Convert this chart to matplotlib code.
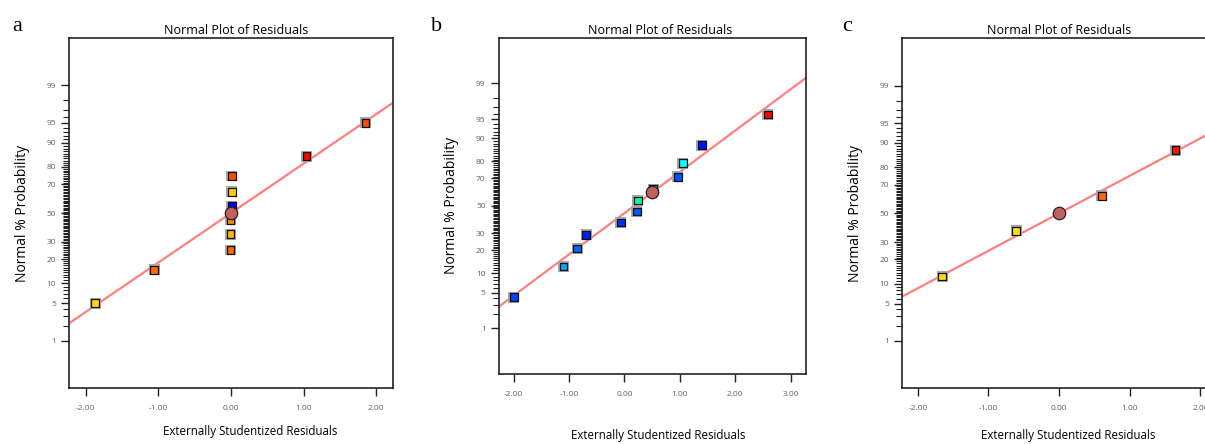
#!/usr/bin/env python3
"""
Normal probability plots of externally studentized residuals (panels a, b, c).
"""

from statistics import NormalDist

import matplotlib
matplotlib.use("Agg")
from matplotlib import pyplot as plt
import numpy as np

plt.rcParams["font.family"] = ["Open Sans", "DejaVu Sans"]

# panel a
a_resid = [-1.87, -1.06, -0.01, -0.01, -0.01, 0.01, 0.01, 0.01, 1.04, 1.85]
a_prob = [5, 15, 25, 35, 45, 55, 65, 75, 85, 95]
a_colors = ["#FFD400", "#FF6A00", "#FF6400", "#FFB800", "#FF8A00",
            "#0000FF", "#FFD000", "#FF4A00", "#FF0000", "#FF4800"]
a_center = (0.0, 50)
a_line_x = [-2.3, 2.3]
a_line_p = [1.9, 98.1]

# panel b
b_resid = [-2.0, -1.10, -0.855, -0.69, -0.065, 0.225, 0.24, 0.52, 0.965, 1.055, 1.40, 2.59]
b_prob = [4.17, 12.5, 20.83, 29.17, 37.5, 45.83, 54.17, 62.5, 70.83, 79.17, 87.5, 95.83]
b_colors = ["#0040FF", "#00A8FF", "#0068FF", "#0020FF", "#0030FF", "#0058FF",
            "#00FFB0", "#00FFFF", "#0050FF", "#00FFFF", "#0010FF", "#FF0000"]
b_center = (0.495, 60)
b_line_x = [-2.35, 3.35]
b_line_p = [2.4, 99.35]

# panel c
c_resid = [-1.655, -0.61, 0.605, 1.645]
c_prob = [12.5, 37.5, 62.5, 87.5]
c_colors = ["#FFE000", "#FFE000", "#FF6A00", "#FF1800"]
c_center = (0.0, 50)
c_line_x = [-2.3, 2.3]
c_line_p = [5.8, 94.2]

MAJOR = [1, 5, 10, 20, 30, 50, 70, 80, 90, 95, 99]
MINOR = [v for v in range(2, 99) if v not in MAJOR]

nd = NormalDist()
to_z = np.vectorize(lambda p: nd.inv_cdf(min(max(p / 100.0, 1e-9), 1 - 1e-9)), otypes=[float])
from_z = np.vectorize(lambda z: nd.cdf(z) * 100.0, otypes=[float])

TICK_COLOR = "#606060"


def panel(rect, resid, prob, colors, center, line_x, line_p, xlim, xticks, title_dx, xlab_pos):
    """One normal plot of residuals"""
    ax = fig.add_axes(rect)
    ax.set_yscale("function", functions=(to_z, from_z))
    ax.set_ylim(0.0711, 99.929)
    ax.set_xlim(*xlim)

    ax.plot(line_x, line_p, color="#FF7F7F", lw=1.6, zorder=2)
    ax.scatter(resid, prob, marker="s", s=62, c="#A8A8A8", edgecolors="none", zorder=3)
    ax.scatter(resid, prob, marker="s", s=30, c=colors, edgecolors="#111111", linewidths=0.9, zorder=4)
    ax.scatter([center[0]], [center[1]], marker="o", s=80, c="#C06060",
               edgecolors="#222222", linewidths=0.9, zorder=5)

    ax.set_yticks(MAJOR)
    ax.set_yticklabels([str(v) for v in MAJOR])
    ax.set_yticks(MINOR, minor=True)
    ax.set_xticks(xticks)
    ax.set_xticklabels([f"{v:.2f}" for v in xticks])
    ax.tick_params(axis="both", which="major", length=6, width=1, color="#222222",
                   labelsize=6, labelcolor=TICK_COLOR)
    ax.tick_params(axis="y", which="minor", length=4, width=0.8, color="#222222")
    ax.tick_params(axis="x", pad=6)
    for s in ax.spines.values():
        s.set_linewidth(1.2)
        s.set_color("#222222")

    ax.set_title("Normal Plot of Residuals", fontsize=9, pad=3, x=0.5 + title_dx)
    ax.set_xlabel("Externally Studentized Residuals", fontsize=8.3)
    ax.xaxis.set_label_coords(*xlab_pos)
    ax.set_ylabel("Normal % Probability", fontsize=10, labelpad=12)
    return ax


fig = plt.figure(figsize=(12.05, 4.44), dpi=100)

panel([0.0573, 0.1261, 0.2689, 0.7883], a_resid, a_prob, a_colors, a_center,
      a_line_x, a_line_p, (-2.23, 2.23), [-2, -1, 0, 1, 2], 0.016, (0.56, -0.105))
panel([0.4139, 0.1577, 0.2550, 0.7574], b_resid, b_prob, b_colors, b_center,
      b_line_x, b_line_p, (-2.27, 3.28), [-2, -1, 0, 1, 2, 3], 0.025, (0.52, -0.165))
panel([0.7488, 0.1255, 0.2603, 0.7883], c_resid, c_prob, c_colors, c_center,
      c_line_x, c_line_p, (-2.22, 2.22), [-2, -1, 0, 1, 2], 0.0, (0.53, -0.115))

for x, y, letter in [(0.010, 0.93, "a"), (0.358, 0.93, "b"), (0.699, 0.93, "c")]:
    fig.text(x, y, letter, fontsize=16, family="Liberation Serif", va="baseline")

fig.savefig("out.png", dpi=100)
